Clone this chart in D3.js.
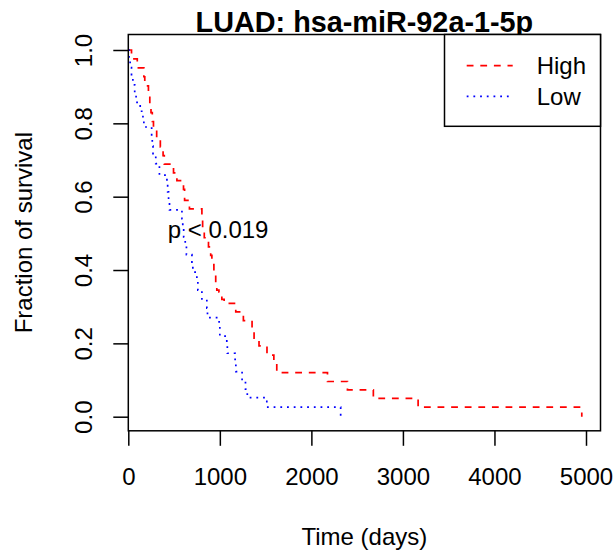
<!DOCTYPE html>
<html>
<head>
<meta charset="utf-8">
<script src="https://cdn.jsdelivr.net/npm/d3@7"></script>
<style>
  html, body { margin: 0; padding: 0; background: #fff; }
  svg text { font-family: "Liberation Sans", Arial, Helvetica, sans-serif; fill: #000; }
</style>
</head>
<body>
<svg id="chart" width="616" height="556"></svg>
<script>
// ---- Data ----
const chartTitle = "LUAD: hsa-miR-92a-1-5p";
const groups = ["High", "Low"];
const groupColors = ["#FF0000", "#0000FF"];

const highTime = [0, 35, 98, 170, 180, 220, 235, 248, 262, 275, 310, 350, 380, 393, 494, 531, 603, 615, 668,
  804, 812, 830, 876, 900, 913, 935, 955, 967, 990, 1022, 1047, 1174, 1257, 1352, 1374, 1428, 1515, 1590, 1622,
  2176, 2394, 2677, 3166, 4954];
const highSurv = [1, 0.976, 0.951, 0.927, 0.902, 0.878, 0.854, 0.829, 0.805, 0.785, 0.759, 0.736, 0.712, 0.689, 0.665, 0.644, 0.62, 0.59, 0.567,
  0.537, 0.512, 0.488, 0.463, 0.44, 0.415, 0.39, 0.366, 0.345, 0.34, 0.32, 0.309, 0.286, 0.262, 0.238, 0.214, 0.193, 0.168, 0.144, 0.12,
  0.096, 0.073, 0.05, 0.026, 0];

const lowTime = [0, 8, 20, 35, 50, 70, 85, 130, 160, 170, 255, 262, 270, 300, 340, 422, 430, 440, 450,
  586, 595, 605, 622, 635, 695, 705, 749, 760, 804, 858, 865, 992, 1000, 1076, 1082, 1167, 1175, 1243, 1280, 1300,
  1513, 2320];
const lowSurv = [1, 0.976, 0.952, 0.929, 0.905, 0.881, 0.857, 0.833, 0.81, 0.79, 0.762, 0.738, 0.714, 0.69, 0.659, 0.637, 0.613, 0.589, 0.564,
  0.54, 0.515, 0.49, 0.466, 0.442, 0.418, 0.394, 0.37, 0.345, 0.321, 0.296, 0.27, 0.245, 0.22, 0.196, 0.173, 0.148, 0.123, 0.099, 0.075, 0.052,
  0.026, 0];

const xTicks = [0, 1000, 2000, 3000, 4000, 5000];
const yTicks = [0, 0.2, 0.4, 0.6, 0.8, 1.0];
const xLabel = "Time (days)";
const yLabel = "Fraction of survival";
const pText = "p < 0.019";
const pPos = [981, 0.5];

// ---- Layout ----
const svg = d3.select("#chart");
const pL = 128.3, pR = 600.5, pT = 34.5, pB = 430.8;
const fs = 24;

const x = d3.scaleLinear().domain([0, 5000]).range([pL, 586]);
const y = d3.scaleLinear().domain([0, 1]).range([416.7, 50]);

// Curves
const line = d3.line().x(d => x(d[0])).y(d => y(d[1])).curve(d3.curveStepAfter);
const series = [
  { name: "High", t: highTime, s: highSurv, color: groupColors[0], dash: "6.8,6.8" },
  { name: "Low", t: lowTime, s: lowSurv, color: groupColors[1], dash: "1.8,4.9" }
];
series.forEach(sr => {
  svg.append("path")
    .datum(sr.t.map((t, i) => [t, sr.s[i]]))
    .attr("d", line)
    .attr("fill", "none")
    .attr("stroke", sr.color)
    .attr("stroke-width", 1.7)
    .attr("stroke-dasharray", sr.dash);
});

// Plot box
svg.append("rect")
  .attr("x", pL).attr("y", pT)
  .attr("width", pR - pL).attr("height", pB - pT)
  .attr("fill", "none").attr("stroke", "#000").attr("stroke-width", 1.5);

// X axis
const gx = svg.append("g")
  .attr("transform", `translate(0,${pB})`)
  .call(d3.axisBottom(x).tickValues(xTicks).tickSize(15).tickFormat(d3.format("d")));
gx.select(".domain").remove();
gx.selectAll(".tick line").attr("stroke", "#000").attr("stroke-width", 1.5);
gx.selectAll(".tick text")
  .attr("y", 54.5).attr("dy", 0)
  .style("font-size", fs + "px")
  .style("font-family", '"Liberation Sans", Arial, sans-serif')
  .attr("fill", "#000");

// Y axis
const gy = svg.append("g")
  .attr("transform", `translate(${pL},0)`)
  .call(d3.axisLeft(y).tickValues(yTicks).tickSize(15).tickFormat(d3.format(".1f")));
gy.select(".domain").remove();
gy.selectAll(".tick line").attr("stroke", "#000").attr("stroke-width", 1.5);
gy.selectAll(".tick text")
  .attr("x", 0).attr("y", 0).attr("dy", 0)
  .attr("transform", "translate(-36.6,0) rotate(-90)")
  .attr("text-anchor", "middle")
  .style("font-size", fs + "px")
  .style("font-family", '"Liberation Sans", Arial, sans-serif')
  .attr("fill", "#000");

// Title
svg.append("text")
  .attr("x", (pL + pR) / 2).attr("y", 31.5)
  .attr("text-anchor", "middle")
  .style("font-size", "28.8px").style("font-weight", "bold")
  .text(chartTitle);

// Axis titles
svg.append("text")
  .attr("x", (pL + pR) / 2).attr("y", 545)
  .attr("text-anchor", "middle")
  .style("font-size", fs + "px")
  .text(xLabel);
svg.append("text")
  .attr("transform", `translate(31.7,${(pT + pB) / 2}) rotate(-90)`)
  .attr("text-anchor", "middle")
  .style("font-size", fs + "px")
  .text(yLabel);

// p-value
svg.append("text")
  .attr("x", x(pPos[0])).attr("y", y(pPos[1]) + 4.5)
  .attr("text-anchor", "middle")
  .style("font-size", fs + "px")
  .text(pText);

// Legend
const lgX = 444.5, lgY = pT, lgW = pR - 444.5, lgH = 126.3 - pT;
svg.append("rect")
  .attr("x", lgX).attr("y", lgY).attr("width", lgW).attr("height", lgH)
  .attr("fill", "#fff").attr("stroke", "#000").attr("stroke-width", 1.5);
const legRows = [65.7, 96.3];
series.forEach((sr, i) => {
  svg.append("line")
    .attr("x1", 466.7).attr("x2", 512.7)
    .attr("y1", legRows[i]).attr("y2", legRows[i])
    .attr("stroke", sr.color).attr("stroke-width", 1.7)
    .attr("stroke-dasharray", sr.dash);
  svg.append("text")
    .attr("x", 536.7).attr("y", legRows[i] + 8.2)
    .style("font-size", fs + "px")
    .text(groups[i]);
});
</script>
</body>
</html>
